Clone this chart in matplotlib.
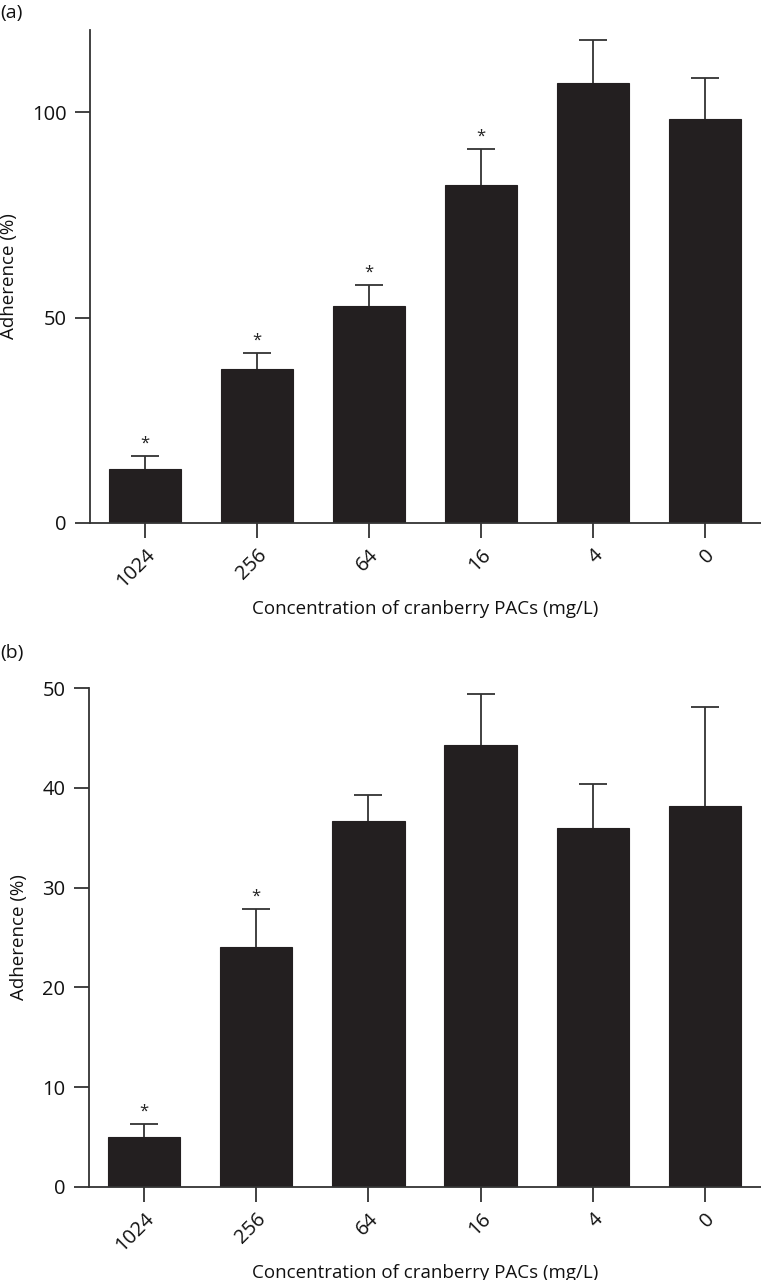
import numpy as np
import matplotlib
matplotlib.use('Agg')
import matplotlib.pyplot as plt

plt.rcParams['font.family'] = ['Open Sans', 'DejaVu Sans']

#data
conc = ['1024', '256', '64', '16', '4', '0']

adh_a = [13.2, 37.6, 52.7, 82.2, 107.0, 98.3]
err_a = [3.1, 3.9, 5.3, 8.8, 10.6, 10.0]
sig_a = [True, True, True, True, False, False]

adh_b = [5.0, 24.0, 36.7, 44.3, 36.0, 38.2]
err_b = [1.3, 3.9, 2.6, 5.1, 4.4, 9.9]
sig_b = [True, True, False, False, False, False]

bar_col = '#231f20'
line_col = '#333333'
txt_col = '#111111'

fig = plt.figure(figsize=(7.61, 12.8), dpi=100)
ax_a = fig.add_axes([90/761, 1-523/1280, 671/761, 493/1280])
ax_b = fig.add_axes([89/761, 1-1187/1280, 672/761, 499/1280])


def draw_panel(ax, vals, errs, sig, ylim, yticks):
    x = np.arange(len(conc))
    vals = np.array(vals)
    errs = np.array(errs)
    ax.bar(x, vals, width=0.645, color=bar_col, edgecolor=bar_col, linewidth=0.8, zorder=2)
    # upper error bars only, with cap on top
    ax.vlines(x, vals, vals + errs, color=line_col, linewidth=1.3, zorder=3)
    ax.plot(x, vals + errs, ls='none', marker='_', markersize=20,
            markeredgewidth=1.3, color=line_col, zorder=3)
    for xi, v, e, s in zip(x, vals, errs, sig):
        if s:
            ax.annotate('*', (xi, v + e), xytext=(0, 3), textcoords='offset points',
                        ha='center', va='bottom', fontsize=12, color='#222222')
    ax.set_xlim(-0.49, 5.5)
    ax.set_ylim(*ylim)
    ax.set_yticks(yticks)
    ax.set_xticks(x)
    ax.set_xticklabels(conc, rotation=45, ha='right', rotation_mode='anchor')
    for s in ['top', 'right']:
        ax.spines[s].set_visible(False)
    for s in ['left', 'bottom']:
        ax.spines[s].set_color(line_col)
        ax.spines[s].set_linewidth(1.3)
    ax.tick_params(axis='both', direction='out', length=11, width=1.3, color=line_col,
                   labelsize=14.5, labelcolor=txt_col)
    ax.tick_params(axis='y', pad=6)
    ax.tick_params(axis='x', pad=5)
    ax.set_ylabel('Adherence (%)', fontsize=13.5, color=txt_col, labelpad=10)
    ax.set_xlabel('Concentration of cranberry PACs (mg/L)', fontsize=13.5,
                  color=txt_col, labelpad=6)


draw_panel(ax_a, adh_a, err_a, sig_a, (0, 120), [0, 50, 100])
draw_panel(ax_b, adh_b, err_b, sig_b, (0, 50), [0, 10, 20, 30, 40, 50])

fig.text(0.0, 1-13/1280, '(a)', fontsize=14, va='center', ha='left', color=txt_col)
fig.text(0.0, 1-653/1280, '(b)', fontsize=14, va='center', ha='left', color=txt_col)

fig.savefig('out.png', dpi=100)
